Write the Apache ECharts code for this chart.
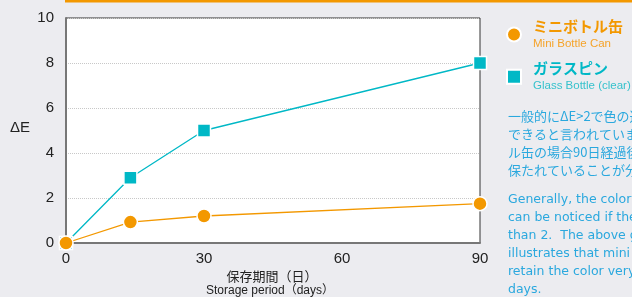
<!DOCTYPE html>
<html><head><meta charset="utf-8">
<script src="https://cdn.jsdelivr.net/npm/echarts@6/dist/echarts.min.js"></script>
<style>html,body{margin:0;padding:0;}#c{width:632px;height:297px;}</style>
</head><body><div id="c"></div>
<script>
const days = [0, 14, 30, 90];
const miniBottleCan = [0, 0.93, 1.2, 1.75];
const glassBottle = [0, 2.9, 5.0, 8.0];
const yTicks = [0, 2, 4, 6, 8, 10];
const xTicks = [0, 30, 60, 90];
const seriesNames = ['ミニボトル缶', 'ガラスピン'];
const seriesSub = ['Mini Bottle Can', 'Glass Bottle (clear)'];
const noteJa = ['一般的にΔE>2で色の違いが認識', 'できると言われています。ミニボト', 'ル缶の場合90日経過後もΔE<2に', '保たれていることが分かります。'];
const noteEn = ['Generally, the color difference', 'can be noticed if the ΔE is more', 'than 2.  The above graph', 'illustrates that mini bottle cans', 'retain the color very well after 90', 'days.'];

const ORANGE = '#f39800', CYAN = '#00b8c6', BLUE = '#2aa8de';
const FONT = '"Liberation Sans", "Noto Sans CJK JP", sans-serif';
const chart = echarts.init(document.getElementById('c'));
const graphics = [
  {type:'rect', shape:{x:65,y:0,width:567,height:2.5}, style:{fill:ORANGE}},
  {type:'text', x:20, y:128, style:{text:'ΔE', font:'15px '+FONT, fill:'#222', align:'center', verticalAlign:'middle'}},
  {type:'text', x:272, y:276, style:{text:'保存期間（日）', font:'13px "Noto Sans CJK JP"', fill:'#222', align:'center', verticalAlign:'middle'}},
  {type:'text', x:270, y:291, style:{text:'Storage period（days）', font:'12px '+FONT, fill:'#222', align:'center', verticalAlign:'middle'}}
];
noteJa.forEach((t,i)=>graphics.push({type:'text', x:508, y:116+i*18, style:{text:t, font:'13px "Noto Sans CJK JP"', fill:BLUE, verticalAlign:'middle'}}));
noteEn.forEach((t,i)=>graphics.push({type:'text', x:508, y:200+i*18, style:{text:t, font:'12.5px "DejaVu Sans"', fill:BLUE, verticalAlign:'middle'}}));

chart.setOption({
  backgroundColor: '#ececf0',
  animation: false,
  grid: {left:66, right:152, top:18, bottom:54, show:true, backgroundColor:'#fff', borderColor:'#333', borderWidth:1},
  legend: {
    orient:'vertical', left:506, top:19, padding:0, itemGap:12, itemWidth:14, itemHeight:14,
    data: seriesNames.map((n,i)=>({name:n, icon: i===0?'circle':'rect',
      textStyle:{rich:{a:{fontSize:15, fontWeight:'bold', color:i===0?ORANGE:CYAN, fontFamily:'"Noto Sans CJK JP"', lineHeight:18, padding:[0,0,0,7]}, b:{fontSize:11.5, color:i===0?'#f5a32a':'#36c2cc', fontFamily:FONT, lineHeight:16, padding:[0,0,0,7]}}}})),
    formatter: n => { const i = seriesNames.indexOf(n); return '{a|'+n+'}\n{b|'+seriesSub[i]+'}'; }
  },
  xAxis: {type:'value', min:0, max:90, interval:30,
    axisLine:{lineStyle:{color:'#777', width:2}}, axisTick:{show:false}, splitLine:{show:false},
    axisLabel:{color:'#222', fontSize:15, fontFamily:FONT, margin:8, formatter:v=>xTicks.includes(v)?String(v):''}},
  yAxis: {type:'value', min:0, max:10, interval:2,
    axisLine:{show:true, lineStyle:{color:'#777', width:2}}, axisTick:{show:false},
    splitLine:{lineStyle:{color:'#c8c8c8', type:'dotted'}},
    axisLabel:{color:'#222', fontSize:15, fontFamily:FONT, margin:12, formatter:v=>yTicks.includes(v)?String(v):''}},
  series: [
    {name:seriesNames[0], type:'line', data:days.map((d,i)=>[d, miniBottleCan[i]]), symbol:'circle', symbolSize:14, z:3,
      lineStyle:{color:ORANGE, width:1.3}, itemStyle:{color:ORANGE, borderColor:'#fff', borderWidth:1.5}},
    {name:seriesNames[1], type:'line', data:days.map((d,i)=>[d, glassBottle[i]]), symbol:'rect', symbolSize:13, z:2,
      lineStyle:{color:CYAN, width:1.3}, itemStyle:{color:CYAN, borderColor:'#fff', borderWidth:1.5}}
  ],
  graphic: graphics
});
</script></body></html>
